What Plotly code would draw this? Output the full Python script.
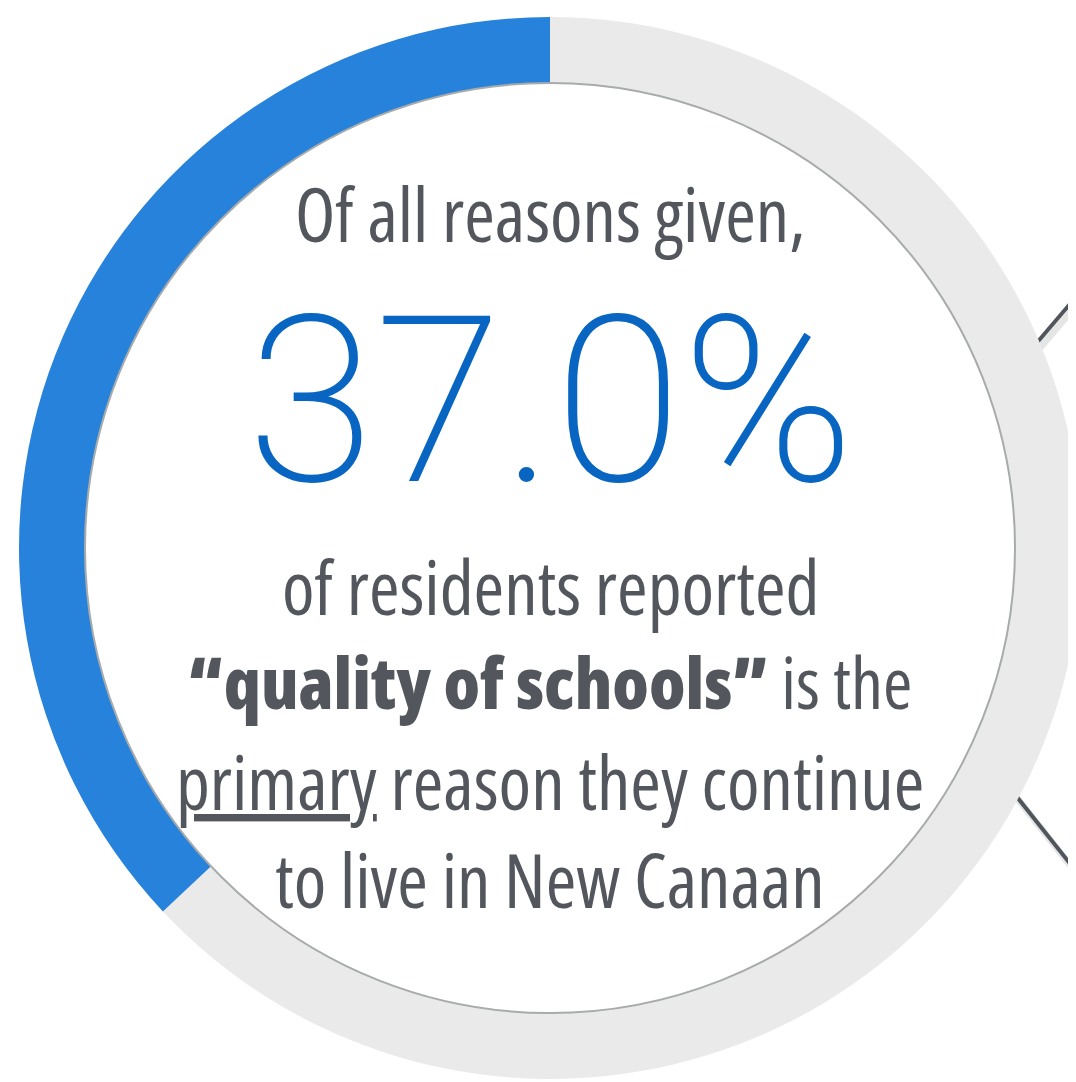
import plotly.graph_objects as go

# ---- data ----
categories = ["All other reasons", "Quality of schools"]
shares = [63.0, 37.0]
slice_colors = ["#EAEAEA", "#2782DC"]

headline_value = "37.0%"
intro_line = "Of all reasons given,"
body_line_1 = "of residents reported"
body_line_2_bold = "\u201cquality of schools\u201d"
body_line_2_rest = " is the"
body_line_3_under = "primary"
body_line_3_rest = " reason they continue"
body_line_4 = "to live in New Canaan"

W, H = 1076, 1082
OFF = 8  # default page margin around the plot div


def px_x(x):
    return (x - OFF) / W


def px_y(y):
    return 1 - (y - OFF) / H


def cond(s, extra=""):
    return f'<span style="font-stretch:75%;{extra}">{s}</span>'


fig = go.Figure()

# ring geometry (page pixels)
cx, cy = 550.0, 548.0
R_out = 531.0
R_in = 465.0

fig.add_trace(
    go.Pie(
        labels=categories,
        values=shares,
        hole=R_in / R_out,
        sort=False,
        direction="counterclockwise",
        rotation=0,
        marker=dict(colors=slice_colors, line=dict(width=0)),
        textinfo="none",
        hoverinfo="label+percent",
        showlegend=False,
        domain=dict(x=[px_x(cx - R_out), px_x(cx + R_out)],
                    y=[px_y(cy + R_out), px_y(cy - R_out)]),
    )
)

shapes = []
line_color = "#50555C"
for (x0, y0, x1, y1) in [(1000, 386, 1110, 257), (990, 763, 1110, 914)]:
    shapes.append(dict(type="line", xref="paper", yref="paper", layer="below",
                       x0=px_x(x0 + 3), y0=px_y(y0 + 5), x1=px_x(x1 + 3), y1=px_y(y1 + 5),
                       line=dict(color="rgba(0,0,0,0.10)", width=7)))
    shapes.append(dict(type="line", xref="paper", yref="paper", layer="below",
                       x0=px_x(x0), y0=px_y(y0), x1=px_x(x1), y1=px_y(y1),
                       line=dict(color=line_color, width=4)))

# thin gray rim around the inner circle
shapes.append(dict(type="circle", xref="paper", yref="paper", layer="above",
                   x0=px_x(cx - R_in), x1=px_x(cx + R_in),
                   y0=px_y(cy + R_in), y1=px_y(cy - R_in),
                   line=dict(color="#A8ABAB", width=2)))

gray = "#53575D"
body_font = dict(family="Open Sans, DejaVu Sans Condensed, sans-serif", size=74, color=gray)
bold_font = dict(body_font, size=71)
tx = px_x(550)

texts = [
    (cond(intro_line), 213, body_font),
    (headline_value, 402,
     dict(family="Roboto, Lato, sans-serif", size=232, color="#0866C2", weight=200)),
    (cond(body_line_1), 586, body_font),
    (cond(body_line_2_bold, "font-weight:800") + cond(body_line_2_rest), 681, bold_font),
    (cond(body_line_3_under, "text-decoration:underline") + cond(body_line_3_rest), 781, body_font),
    (cond(body_line_4), 879, body_font),
]

annotations = [
    dict(text=t, x=tx, y=px_y(yc), xref="paper", yref="paper", showarrow=False,
         xanchor="center", yanchor="middle", font=f)
    for t, yc, f in texts
]

fig.update_layout(
    width=W, height=H,
    margin=dict(l=0, r=0, t=0, b=0),
    paper_bgcolor="white",
    plot_bgcolor="white",
    shapes=shapes,
    annotations=annotations,
)

fig.write_html("out.html")
